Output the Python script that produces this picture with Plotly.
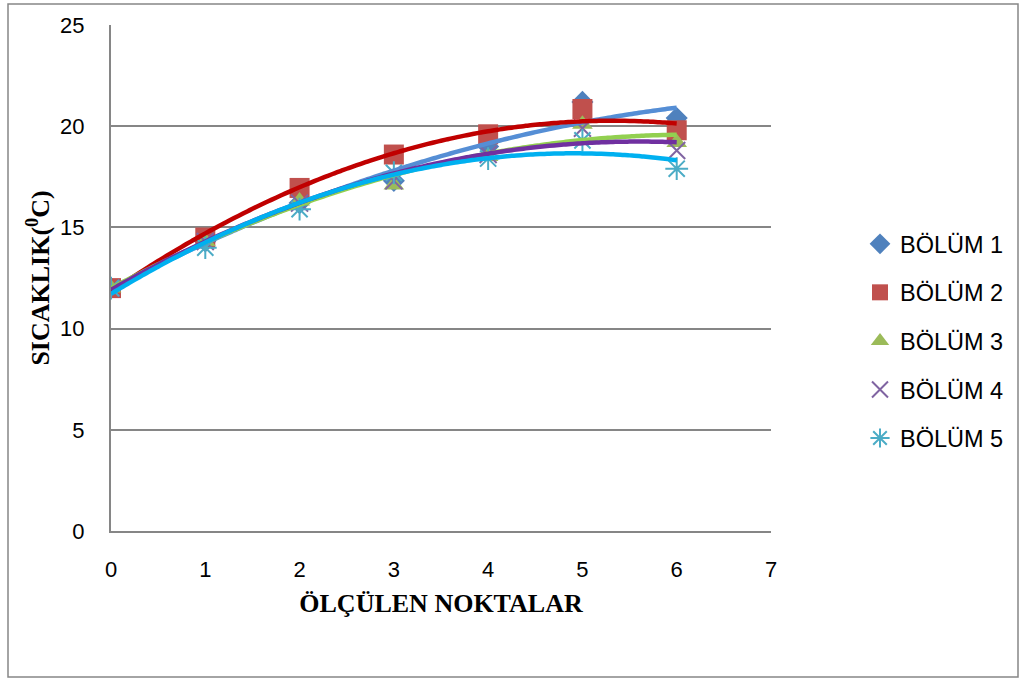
import numpy as np
import plotly.graph_objects as go

x_points = [0, 1, 2, 3, 4, 5, 6]
series_names = ["BÖLÜM 1", "BÖLÜM 2", "BÖLÜM 3", "BÖLÜM 4", "BÖLÜM 5"]
bolum1 = [12.0, 14.3, 16.2, 17.3, 19.0, 21.2, 20.4]
bolum2 = [12.0, 14.5, 16.95, 18.6, 19.6, 20.85, 19.8]
bolum3 = [12.0, 14.3, 16.3, 17.1, 18.5, 20.1, 19.2]
bolum4 = [12.0, 14.3, 16.2, 17.3, 18.6, 19.9, 18.8]
bolum5 = [12.0, 14.0, 15.9, 17.7, 18.4, 19.3, 17.9]
x_tick_vals = [0, 1, 2, 3, 4, 5, 6, 7]
y_tick_vals = [0, 5, 10, 15, 20, 25]

all_series = [bolum1, bolum2, bolum3, bolum4, bolum5]
marker_colors = ["#4F81BD", "#C0504D", "#9BBB59", "#8064A2", "#4BACC6"]
trend_colors = ["#558ED5", "#C00000", "#92D050", "#7030A0", "#00B0F0"]
symbols = ["diamond", "square", "triangle-up", "x-thin-open", "asterisk-open"]
sizes = [17, 20, 18, 17, 19]

fig = go.Figure()
for i, (name, ys, mc, sym, sz) in enumerate(zip(series_names, all_series, marker_colors, symbols, sizes)):
    line_w = 2 if "open" in sym else 0
    fig.add_trace(go.Scatter(
        x=x_points, y=ys, mode="markers", name=name, legendgroup=f"g{i}",
        marker=dict(symbol=sym, size=sz, color=mc, line=dict(width=line_w, color=mc)),
    ))

xs_dense = np.linspace(min(x_points), max(x_points), 121)
for ys, tc in zip(all_series, trend_colors):
    coef = np.polyfit(x_points, ys, 2)
    fig.add_trace(go.Scatter(
        x=xs_dense, y=np.polyval(coef, xs_dense), mode="lines",
        line=dict(color=tc, width=4.5, shape="spline"), showlegend=False, hoverinfo="skip",
    ))

L, R, T, B = 111, 249, 25, 149
fig.update_layout(
    width=1020, height=680,
    margin=dict(l=L, r=R, t=T, b=B, autoexpand=False),
    paper_bgcolor="white", plot_bgcolor="white",
    font=dict(family="Liberation Sans", size=22, color="black"),
    showlegend=True,
    legend=dict(
        x=(860 - L) / 660, xanchor="left", y=(531 - 222) / 506, yanchor="top",
        font=dict(family="Liberation Sans", size=23.5, color="black"),
        tracegroupgap=15, bgcolor="rgba(0,0,0,0)", itemwidth=30,
    ),
    xaxis=dict(
        range=[0, 7], tickvals=x_tick_vals, showgrid=False, zeroline=False,
        showline=True, linecolor="#868686", linewidth=2,
        ticks="", ticklabelstandoff=18,
        title=dict(text="ÖLÇÜLEN NOKTALAR", standoff=12,
                   font=dict(family="Liberation Serif", size=26, color="black", weight="bold")),
    ),
    yaxis=dict(
        range=[0, 25], tickvals=y_tick_vals, showgrid=True, gridcolor="#868686", gridwidth=2,
        zeroline=False, showline=True, linecolor="#868686", linewidth=2,
        ticks="", ticklabelstandoff=20,
        title=dict(text="SICAKLIK(<sup>0</sup>C)", standoff=3,
                   font=dict(family="Liberation Serif", size=26, color="black", weight="bold")),
    ),
    shapes=[dict(
        type="rect", xref="paper", yref="paper", layer="below",
        x0=(8 - L) / 660, x1=(1018 - L) / 660, y0=(531 - 677) / 506, y1=(531 - 4) / 506,
        line=dict(color="#868686", width=1.5), fillcolor="rgba(0,0,0,0)",
    )],
)

fig.write_html("out.html")
